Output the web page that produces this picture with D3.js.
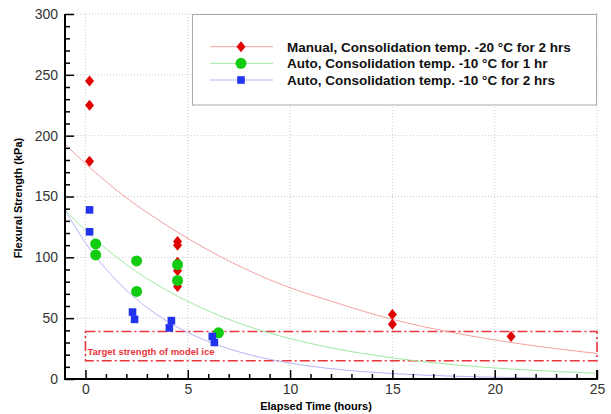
<!DOCTYPE html>
<html>
<head>
<meta charset="utf-8">
<script src="https://cdn.jsdelivr.net/npm/d3@7"></script>
<style>
  body { margin: 0; background: #fff; }
  svg { font-family: "Liberation Sans", Arial, sans-serif; }
</style>
</head>
<body>
<svg id="chart" width="611" height="414"></svg>
<script>
// measured points
const manualX = [0.2, 0.2, 0.2, 4.5, 4.5, 4.5, 4.5, 4.5, 4.5, 15, 15, 20.8];
const manualY = [245, 225, 179, 113, 110, 96, 89, 79, 76, 53, 45, 35];
const auto1X = [0.5, 0.5, 2.5, 2.5, 4.5, 4.5, 6.5];
const auto1Y = [111, 102, 97, 72, 94, 81, 38];
const auto2X = [0.2, 0.2, 2.3, 2.4, 4.2, 4.1, 6.2, 6.3];
const auto2Y = [139, 121, 55, 49, 48, 42, 35, 30];

// fitted curves
const fitX = [-1, 0, 2, 4, 6, 8, 10, 12, 15, 18, 21, 25];
const manualFit = [193, 177, 149, 126, 106, 89, 75, 64, 49, 38, 29.5, 21];
const auto1Fit = [139, 122, 94, 72.6, 56, 43, 33.2, 25.6, 17.4, 11.7, 8, 4.7];
const auto2Fit = [139, 112, 73, 47.4, 30.8, 20.1, 13, 8.5, 4.5, 2.3, 1.2, 0.5];

// target band
const targetX = [0, 25];
const targetY = [15, 39];

const xTicks = [0, 5, 10, 15, 20, 25];
const yTicks = [0, 50, 100, 150, 200, 250, 300];

const legendLabels = [
  'Manual, Consolidation temp. -20 °C for 2 hrs',
  'Auto, Consolidation temp. -10 °C for 1 hr',
  'Auto, Consolidation temp. -10 °C for 2 hrs'
];

const svg = d3.select('#chart');
const pLeft = 65, pRight = 597, pTop = 14, pBottom = 379;

const x = d3.scaleLinear().domain([-1, 25]).range([pLeft, pRight]);
const y = d3.scaleLinear().domain([0, 300]).range([pBottom, pTop]);

// grid
svg.append('g').selectAll('line').data(xTicks).join('line')
  .attr('x1', d => x(d)).attr('x2', d => x(d))
  .attr('y1', pTop).attr('y2', pBottom)
  .attr('stroke', '#ccc').attr('stroke-dasharray', '1,2');
svg.append('g').selectAll('line').data(yTicks.slice(1)).join('line')
  .attr('x1', pLeft).attr('x2', pRight)
  .attr('y1', d => y(d)).attr('y2', d => y(d))
  .attr('stroke', '#ccc').attr('stroke-dasharray', '1,2');

// target box
svg.append('rect')
  .attr('x', x(targetX[0])).attr('y', y(targetY[1]))
  .attr('width', x(targetX[1]) - x(targetX[0]))
  .attr('height', y(targetY[0]) - y(targetY[1]))
  .attr('fill', 'none').attr('stroke', '#e8343c').attr('stroke-width', 1.6)
  .attr('stroke-dasharray', '10,3,2,3');
svg.append('text')
  .attr('x', x(targetX[0]) + 2).attr('y', 355)
  .attr('fill', '#e8343c').attr('font-size', 9.5).attr('font-weight', 'bold')
  .text('Target strength of model ice');

// fit curves
svg.append('clipPath').attr('id', 'clip')
  .append('rect').attr('x', pLeft).attr('y', pTop).attr('width', pRight - pLeft).attr('height', pBottom - pTop);
const line = d3.line().x((d, i) => x(fitX[i])).y(d => y(d)).curve(d3.curveMonotoneX);
const fits = [[manualFit, '#f4a0a0'], [auto1Fit, '#9fe89f'], [auto2Fit, '#b4b4f8']];
fits.forEach(([vals, col]) => {
  svg.append('path').datum(vals).attr('d', line)
    .attr('fill', 'none').attr('stroke', col).attr('stroke-width', 1)
    .attr('clip-path', 'url(#clip)');
});

// markers
const red = '#e00000', green = '#11cc11', blue = '#2233ee';
function diamond(g, cx, cy) {
  g.append('path').attr('d', `M${cx},${cy - 5.5}L${cx + 4.5},${cy}L${cx},${cy + 5.5}L${cx - 4.5},${cy}Z`).attr('fill', red);
}
const gm = svg.append('g');
manualY.forEach((v, i) => diamond(gm, x(manualX[i]), y(v)));
svg.append('g').selectAll('circle').data(auto1Y).join('circle')
  .attr('cx', (d, i) => x(auto1X[i])).attr('cy', d => y(d)).attr('r', 5.5).attr('fill', green);
svg.append('g').selectAll('rect').data(auto2Y).join('rect')
  .attr('x', (d, i) => x(auto2X[i]) - 3.8).attr('y', d => y(d) - 3.8)
  .attr('width', 7.6).attr('height', 7.6).attr('fill', blue);

// axes with inward ticks
svg.append('g').attr('transform', `translate(0,${pBottom})`)
  .call(d3.axisBottom(x).tickValues(xTicks).tickSize(-9).tickPadding(5));
svg.append('g').attr('transform', `translate(${pLeft},0)`)
  .call(d3.axisLeft(y).tickValues(yTicks).tickSize(-9).tickPadding(7));
svg.append('g').attr('transform', `translate(0,${pBottom})`)
  .call(d3.axisBottom(x).tickValues(d3.range(0, 26, 1).filter(d => d % 5)).tickSize(-5).tickFormat(''));
svg.append('g').attr('transform', `translate(${pLeft},0)`)
  .call(d3.axisLeft(y).tickValues(d3.range(10, 300, 10).filter(d => d % 50)).tickSize(-5).tickFormat(''));
svg.selectAll('.domain').remove();
svg.selectAll('.tick line').attr('stroke', '#000').attr('stroke-width', 1.5);
svg.selectAll('.tick text').attr('font-size', 14).attr('fill', '#333')
  .attr('font-family', '"Liberation Sans", Arial, sans-serif');
svg.append('path').attr('d', `M${pLeft},${pTop}V${pBottom}H${pRight}V${pBottom - 9}`)
  .attr('fill', 'none').attr('stroke', '#000').attr('stroke-width', 2);

// axis titles
svg.append('text').attr('x', 316).attr('y', 410).attr('text-anchor', 'middle')
  .attr('font-size', 11).attr('font-weight', 'bold').text('Elapsed Time (hours)');
svg.append('text').attr('transform', 'translate(22,198) rotate(-90)').attr('text-anchor', 'middle')
  .attr('font-size', 11).attr('font-weight', 'bold').text('Flexural Strength (kPa)');

// legend
const lg = svg.append('g');
lg.append('rect').attr('x', 192.5).attr('y', 14.5).attr('width', 404).attr('height', 90.5)
  .attr('fill', '#fff').attr('stroke', '#aaa').attr('stroke-width', 1);
const rows = [46.7, 63.3, 80];
const legCols = ['#f4a0a0', '#9fe89f', '#b4b4f8'];
legendLabels.forEach((t, i) => {
  lg.append('line').attr('x1', 210).attr('x2', 273).attr('y1', rows[i]).attr('y2', rows[i])
    .attr('stroke', legCols[i]).attr('stroke-width', 1);
  lg.append('text').attr('x', 287).attr('y', rows[i] + 4.8).attr('font-size', 13.5).attr('font-weight', 'bold')
    .attr('fill', '#111').text(t);
});
diamond(lg, 241, rows[0]);
lg.append('circle').attr('cx', 241).attr('cy', rows[1]).attr('r', 5.5).attr('fill', green);
lg.append('rect').attr('x', 241 - 3.8).attr('y', rows[2] - 3.8).attr('width', 7.6).attr('height', 7.6).attr('fill', blue);
</script>
</body>
</html>
